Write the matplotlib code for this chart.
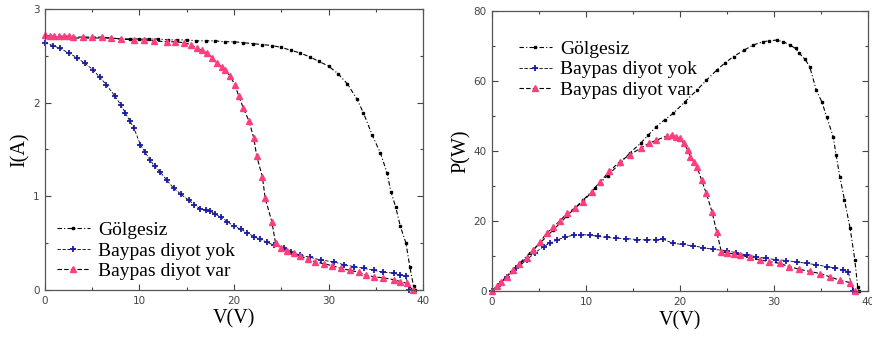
import numpy as np
import matplotlib
matplotlib.use("Agg")
import matplotlib.pyplot as plt
from matplotlib.ticker import MultipleLocator

# ---------------------------------------------------------------- #
# data (V in volts, I in amps, P in watts)
# ---------------------------------------------------------------- #
V_IV_NOSHADE = [0, 1, 2, 3, 4, 5, 6, 7, 8, 9, 10, 11, 12, 13, 14, 15, 16, 17, 18, 19,
                20, 21, 22, 23, 24, 25, 26, 27, 28, 29, 30, 31, 32, 33, 33.7, 34.6,
                35.5, 36.2, 36.6, 37.1, 37.6, 38.2, 38.6, 39.0, 39.2]
I_NOSHADE = [2.70, 2.70, 2.70, 2.69, 2.69, 2.69, 2.69, 2.69, 2.68, 2.68, 2.68, 2.68,
             2.68, 2.67, 2.67, 2.67, 2.66, 2.66, 2.66, 2.65, 2.65, 2.64, 2.63, 2.62,
             2.61, 2.59, 2.56, 2.53, 2.49, 2.44, 2.39, 2.31, 2.20, 2.04, 1.89, 1.66,
             1.46, 1.25, 1.05, 0.89, 0.68, 0.50, 0.25, 0.04, 0.0]

V_IV_NODIODE = [0, 0.8, 1.6, 2.5, 3.4, 4.2, 5.1, 5.8, 6.5, 7.4, 8.0, 8.5, 9.0, 9.4, 10.1,
                10.6, 11.1, 11.6, 12.2, 12.9, 13.6, 14.4, 15.2, 15.8, 16.4, 17.0, 17.5,
                18.0, 18.6, 19.3, 20.0, 20.7, 21.4, 22.1, 22.8, 23.5, 24.2, 25.3, 26.0,
                27.0, 28.0, 29.2, 30.6, 31.6, 32.7, 33.8, 34.8, 35.8, 36.9, 37.6, 38.2, 38.5]
I_NODIODE = [2.64, 2.61, 2.58, 2.53, 2.48, 2.42, 2.35, 2.27, 2.19, 2.07, 1.98, 1.89, 1.80,
             1.73, 1.55, 1.47, 1.39, 1.32, 1.26, 1.17, 1.09, 1.02, 0.96, 0.91, 0.87, 0.85,
             0.84, 0.81, 0.78, 0.73, 0.68, 0.65, 0.61, 0.57, 0.54, 0.51, 0.48, 0.45, 0.41,
             0.37, 0.35, 0.32, 0.30, 0.27, 0.25, 0.23, 0.21, 0.19, 0.18, 0.16, 0.15, 0.0]

V_IV_DIODE = [0, 0.5, 1, 1.5, 2, 2.5, 3, 4, 5, 6, 7, 8, 9.4, 10.5, 11.5, 12.9, 13.8, 14.7,
              15.4, 16.1, 16.6, 17.1, 17.7, 18.2, 18.7, 19.1, 19.6, 20.1, 20.5, 21.0, 21.6,
              22.1, 22.4, 23.0, 23.3, 24.0, 24.4, 25.0, 25.6, 26.3, 27.0, 27.8, 28.6, 29.5,
              30.4, 31.3, 32.3, 33.2, 34.0, 34.8, 35.8, 36.9, 37.6, 38.3, 38.9]
I_DIODE = [2.72, 2.71, 2.71, 2.71, 2.71, 2.71, 2.70, 2.70, 2.70, 2.70, 2.69, 2.68, 2.67,
           2.67, 2.66, 2.65, 2.65, 2.64, 2.62, 2.58, 2.56, 2.53, 2.48, 2.42, 2.38, 2.35,
           2.28, 2.19, 2.07, 1.94, 1.80, 1.62, 1.43, 1.21, 0.98, 0.73, 0.50, 0.45, 0.42,
           0.39, 0.36, 0.33, 0.30, 0.28, 0.26, 0.23, 0.21, 0.19, 0.16, 0.14, 0.13, 0.11,
           0.09, 0.07, 0.0]

V_PV_NOSHADE = [0, 1, 2, 3, 4, 5, 6.5, 8, 9.7, 11, 12.3, 13.6, 14.7, 15.8, 16.6, 17.5, 18.4,
                19.3, 20.5, 21.8, 22.8, 23.9, 24.8, 25.7, 26.8, 27.8, 28.8, 29.5, 30.3, 31.0,
                31.7, 32.3, 32.7, 33.3, 33.8, 34.5, 35.1, 35.6, 36.3, 36.6, 37.0, 37.5, 38.1,
                38.6, 38.9, 39.0]
P_NOSHADE = [0, 2.7, 5.4, 8.1, 10.8, 13.4, 17.4, 21.5, 26, 29.5, 33, 36.4, 39.5, 42.2, 44.5,
             47, 49, 50.8, 54, 57.4, 60.2, 63.1, 65.2, 67, 68.8, 70.3, 71.2, 71.5, 71.7, 71.2,
             70.3, 69.3, 67.9, 66.2, 64.1, 57.4, 54, 49.8, 44.1, 39, 32.7, 26, 17.9, 8.9, 1.2, 0]

V_PV_NODIODE = [0, 0.8, 1.6, 2.6, 3.7, 4.6, 5.5, 6.2, 6.9, 7.8, 8.7, 9.5, 10.4, 11.3, 12.2,
                13.2, 14.3, 15.4, 16.5, 17.4, 18.2, 19.3, 20.3, 21.4, 22.5, 23.5, 25.0, 26.0,
                27.1, 28.1, 29.2, 30.2, 31.3, 32.4, 33.5, 34.5, 35.6, 36.5, 37.3, 37.9, 38.4]
P_NODIODE = [0, 2.1, 4.1, 6.5, 8.9, 11, 12.7, 13.7, 14.6, 15.4, 16, 16.1, 16, 15.6, 15.3,
             15.1, 15, 14.7, 14.6, 14.7, 14.8, 13.6, 13.3, 12.9, 12.4, 11.9, 11.5, 10.9, 10.3,
             9.8, 9.3, 9.0, 8.7, 8.3, 7.9, 7.5, 7.0, 6.6, 6.0, 5.5, 0]

V_PV_DIODE = [0, 0.5, 1.0, 1.6, 2.2, 2.9, 3.7, 4.4, 5.1, 5.8, 6.5, 7.2, 8.0, 8.8, 9.7, 10.6,
              11.5, 12.5, 13.6, 14.7, 15.8, 16.7, 17.5, 18.6, 19.1, 19.6, 20.0, 20.4, 20.8,
              21.1, 21.5, 21.8, 22.3, 22.8, 23.4, 23.9, 24.4, 25.0, 25.7, 26.4, 27.4, 28.5,
              29.5, 30.6, 31.6, 32.7, 33.8, 34.9, 36.0, 37.0, 38.1, 38.6]
P_DIODE = [0, 1.4, 2.7, 4.1, 5.9, 7.7, 9.3, 11.7, 13.9, 16.5, 18.2, 20.0, 22.2, 23.7, 25.5,
           28.4, 31.2, 34.2, 37, 39, 40.8, 42.2, 43.1, 44.3, 44.6, 44.1, 43.6, 42.2, 40.4,
           38.4, 36.8, 35.5, 31.7, 27.9, 22.7, 17, 11.2, 10.9, 10.6, 10.3, 9.6, 8.9, 8.4,
           7.9, 7.0, 6.2, 5.6, 5.0, 4.0, 3.1, 2.4, 0]

LABELS = ["Gölgesiz", "Baypas diyot yok", "Baypas diyot var"]

SERIF = "Liberation Serif"
TICK_COLOR = "#444444"

# black dashed line, coloured marker (gnuplot-like)
STYLES = [
    dict(ls=(0, (4, 2, 1, 2)), color="black", lw=0.8, marker="s", ms=2.0,
         mfc="black", mec="black"),
    dict(ls=(0, (4, 2)), color="black", lw=0.6, marker="+", ms=4.0,
         mfc="#1a1aa8", mec="#1a1aa8", mew=1.3),
    dict(ls=(0, (4, 2)), color="black", lw=0.8, marker="^", ms=4.5,
         mfc="#ff3d7f", mec="#ff3d7f"),
]


def style_axes(ax, xmax, ymax, ymaj, ymin):
    ax.set_xlim(0, xmax)
    ax.set_ylim(0, ymax)
    ax.xaxis.set_major_locator(MultipleLocator(10))
    ax.xaxis.set_minor_locator(MultipleLocator(5))
    ax.yaxis.set_major_locator(MultipleLocator(ymaj))
    ax.yaxis.set_minor_locator(MultipleLocator(ymin))
    ax.tick_params(which="both", direction="in", top=True, right=True,
                   colors=TICK_COLOR, labelsize=7.5, pad=4)
    ax.tick_params(which="major", length=4, width=0.8)
    ax.tick_params(which="minor", length=2.5, width=0.8)
    for sp in ax.spines.values():
        sp.set_color("#555555")
        sp.set_linewidth(0.9)


def main():
    fig = plt.figure(figsize=(8.72, 3.51), dpi=100)
    ax1 = fig.add_axes([0.0516, 0.1738, 0.4335, 0.8006])
    ax2 = fig.add_axes([0.5642, 0.1709, 0.4312, 0.7977])

    iv = [(V_IV_NOSHADE, I_NOSHADE), (V_IV_NODIODE, I_NODIODE), (V_IV_DIODE, I_DIODE)]
    pv = [(V_PV_NOSHADE, P_NOSHADE), (V_PV_NODIODE, P_NODIODE), (V_PV_DIODE, P_DIODE)]

    for (x, y), st, lab in zip(iv, STYLES, LABELS):
        ax1.plot(x, y, label=lab, clip_on=False, **st)
    for (x, y), st, lab in zip(pv, STYLES, LABELS):
        ax2.plot(x, y, label=lab, clip_on=False, **st)

    style_axes(ax1, 40, 3, 1, 0.5)
    style_axes(ax2, 40, 80, 20, 10)

    for ax, ylab in [(ax1, "I(A)"), (ax2, "P(W)")]:
        ax.set_xlabel("V(V)", family=SERIF, fontsize=14.5, labelpad=3)
        ax.set_ylabel(ylab, family=SERIF, fontsize=14.5, labelpad=2)

    leg_kw = dict(frameon=False, prop=dict(family=SERIF, size=14), handlelength=1.7,
                  handletextpad=0.45, labelspacing=0.15, borderaxespad=0.1)
    ax1.legend(loc="lower left", bbox_to_anchor=(0.005, 0.0), **leg_kw)
    ax2.legend(loc="upper left", bbox_to_anchor=(0.045, 0.93), **leg_kw)

    fig.savefig("out.png", dpi=100)
    plt.close(fig)


if __name__ == "__main__":
    main()
